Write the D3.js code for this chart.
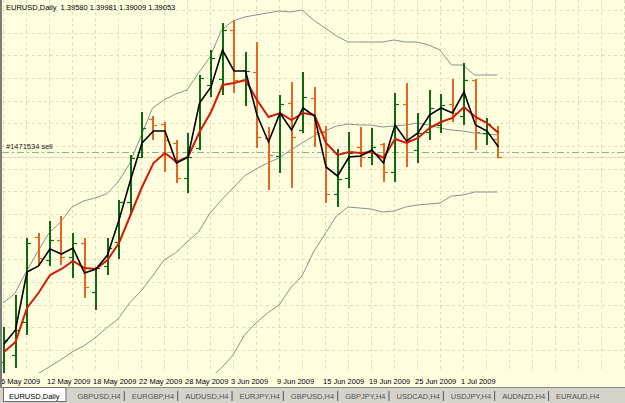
<!DOCTYPE html>
<html>
<head>
<meta charset="utf-8">
<script src="https://cdn.jsdelivr.net/npm/d3@7"></script>
<style>
  body { margin: 0; background: #fff; }
  svg { display: block; font-family: "Liberation Sans", Arial, sans-serif; }
</style>
</head>
<body>
<svg id="chart" width="625" height="403"></svg>
<script>
// EURUSD daily bars, 6 May - 6 Jul 2009
var dates = ["2009-05-06","2009-05-07","2009-05-08","2009-05-11","2009-05-12","2009-05-13","2009-05-14","2009-05-15",
  "2009-05-18","2009-05-19","2009-05-20","2009-05-21","2009-05-22","2009-05-25","2009-05-26","2009-05-27","2009-05-28","2009-05-29",
  "2009-06-01","2009-06-02","2009-06-03","2009-06-04","2009-06-05","2009-06-08","2009-06-09","2009-06-10","2009-06-11","2009-06-12",
  "2009-06-15","2009-06-16","2009-06-17","2009-06-18","2009-06-19","2009-06-22","2009-06-23","2009-06-24","2009-06-25","2009-06-26",
  "2009-06-29","2009-06-30","2009-07-01","2009-07-02","2009-07-03","2009-07-06"];

var open = [1.3290, 1.3311, 1.3410, 1.3665, 1.3596, 1.3656, 1.3605, 1.3647, 1.3500, 1.3578, 1.3650, 1.3770, 1.3905, 1.4019, 1.4004,
  1.3947, 1.3842, 1.3932, 1.4121, 1.4139, 1.4286, 1.4136, 1.4160, 1.3962, 1.3908, 1.4067, 1.3986, 1.4082, 1.3980, 1.3794,
  1.3842, 1.3935, 1.3905, 1.3944, 1.3860, 1.4064, 1.3926, 1.3980, 1.4001, 1.4064, 1.4028, 1.4136, 1.3977, 1.3958];
var high = [1.3395, 1.3491, 1.3662, 1.3677, 1.3713, 1.3728, 1.3677, 1.3662, 1.3575, 1.3662, 1.3776, 1.3911, 1.4040, 1.4028, 1.4010,
  1.3956, 1.3977, 1.4151, 1.4226, 1.4307, 1.4316, 1.4220, 1.4250, 1.3995, 1.4091, 1.4130, 1.4160, 1.4115, 1.3998, 1.3929,
  1.3980, 1.3995, 1.3992, 1.3947, 1.4097, 1.4127, 1.4037, 1.4106, 1.4094, 1.4139, 1.4187, 1.4139, 1.4022, 1.3998];
var low = [1.3242, 1.3272, 1.3371, 1.3581, 1.3578, 1.3581, 1.3542, 1.3482, 1.3446, 1.3551, 1.3599, 1.3731, 1.3902, 1.3956, 1.3860,
  1.3827, 1.3797, 1.3926, 1.4085, 1.4091, 1.4097, 1.4058, 1.3932, 1.3806, 1.3857, 1.3812, 1.3977, 1.3935, 1.3767, 1.3755,
  1.3812, 1.3875, 1.3881, 1.3830, 1.3830, 1.3875, 1.3887, 1.3956, 1.3977, 1.4010, 1.4001, 1.3926, 1.3941, 1.3901];
var close = [1.3356, 1.3386, 1.3647, 1.3602, 1.3656, 1.3605, 1.3647, 1.3515, 1.3572, 1.3632, 1.3770, 1.3902, 1.3992, 1.4001, 1.3956,
  1.3842, 1.3905, 1.4142, 1.4202, 1.4286, 1.4136, 1.4163, 1.3965, 1.3911, 1.4064, 1.3965, 1.4085, 1.3980, 1.3794, 1.3839,
  1.3917, 1.3905, 1.3935, 1.3860, 1.4064, 1.3956, 1.3977, 1.4052, 1.4061, 1.4037, 1.4136, 1.3980, 1.4004, 1.3905];

// indicators
var fastMA = [1.3344, 1.3386, 1.3560, 1.3578, 1.3629, 1.3614, 1.3632, 1.3557, 1.3569, 1.3611, 1.3716, 1.3836, 1.3947, 1.3983, 1.3983,
  1.3887, 1.3905, 1.4067, 1.4115, 1.4226, 1.4163, 1.4163, 1.4031, 1.3950, 1.4037, 1.3986, 1.4052, 1.4028, 1.3875, 1.3848,
  1.3905, 1.3908, 1.3926, 1.3887, 1.4001, 1.3953, 1.3977, 1.4031, 1.4052, 1.4037, 1.4100, 1.4001, 1.3983, 1.3935];
var slowMA = [1.3320, 1.3350, 1.3452, 1.3497, 1.3551, 1.3569, 1.3593, 1.3572, 1.3569, 1.3596, 1.3647, 1.3731, 1.3815, 1.3887, 1.3917,
  1.3890, 1.3905, 1.3980, 1.4040, 1.4121, 1.4127, 1.4136, 1.4076, 1.4025, 1.4037, 1.4016, 1.4037, 1.4031, 1.3947, 1.3911,
  1.3920, 1.3917, 1.3920, 1.3902, 1.3959, 1.3947, 1.3962, 1.3992, 1.4010, 1.4022, 1.4055, 1.4025, 1.4007, 1.3977];
var bandUpper = [1.3467, 1.3494, 1.3560, 1.3620, 1.3677, 1.3710, 1.3755, 1.3773, 1.3782, 1.3794, 1.3830, 1.3884, 1.3968, 1.4052, 1.4076,
  1.4094, 1.4106, 1.4157, 1.4205, 1.4286, 1.4313, 1.4325, 1.4331, 1.4337, 1.4343, 1.4340, 1.4346, 1.4316, 1.4292, 1.4268,
  1.4250, 1.4250, 1.4250, 1.4250, 1.4256, 1.4250, 1.4250, 1.4241, 1.4226, 1.4181, 1.4181, 1.4151, 1.4151, 1.4151];
var bandMiddle = [1.3176, 1.3200, 1.3230, 1.3254, 1.3275, 1.3296, 1.3320, 1.3338, 1.3362, 1.3392, 1.3419, 1.3467, 1.3503, 1.3548, 1.3596,
  1.3617, 1.3650, 1.3680, 1.3737, 1.3776, 1.3812, 1.3848, 1.3869, 1.3887, 1.3902, 1.3926, 1.3947, 1.3968, 1.3983, 1.3998,
  1.4004, 1.4001, 1.4001, 1.3995, 1.3998, 1.4001, 1.4007, 1.4001, 1.3992, 1.3986, 1.3983, 1.3977, 1.3974, 1.3971];
var bandLower = [null, null, null, null, null, null, null, null, null, null, null, null, null, 1.3044, 1.3116,
  1.3140, 1.3194, 1.3200, 1.3242, 1.3272, 1.3311, 1.3371, 1.3407, 1.3437, 1.3461, 1.3512, 1.3548, 1.3620, 1.3674, 1.3728,
  1.3755, 1.3752, 1.3749, 1.3740, 1.3743, 1.3755, 1.3761, 1.3764, 1.3767, 1.3788, 1.3791, 1.3800, 1.3800, 1.3800];

var tickLabels = ["6 May 2009", "12 May 2009", "18 May 2009", "22 May 2009", "28 May 2009", "3 Jun 2009",
  "9 Jun 2009", "15 Jun 2009", "19 Jun 2009", "25 Jun 2009", "1 Jul 2009"];
var gridPrices = [1.4346, 1.4278, 1.4210, 1.4142, 1.4074, 1.4006, 1.3938, 1.3870, 1.3802, 1.3734,
  1.3666, 1.3598, 1.3530, 1.3462, 1.3394, 1.3326, 1.3258];
var tabs = ["EURUSD,Daily", "GBPUSD,H4", "EURGBP,H4", "AUDUSD,H4", "EURJPY,H4", "GBPUSD,H4",
  "GBPJPY,H4", "USDCAD,H4", "USDJPY,H4", "AUDNZD,H4", "EURAUD,H4"];
var headerText = "EURUSD,Daily  1.39580 1.39981 1.39009 1.39053";
var orderLabel = "#1471534 sell";
var sellPrice = 1.3920, bidPrice = 1.3905;

var svg = d3.select("#chart"),
    width = +svg.attr("width"),
    height = +svg.attr("height"),
    plotBottom = 372,
    stripTop = 387,
    upColor = "#0c6a14",
    downColor = "#e5661e";

var parseDate = d3.timeParse("%Y-%m-%d"),
    formatDate = d3.timeFormat("%-d %b %Y");

var bars = dates.map(function (d, i) {
  return { i: i, date: parseDate(d), o: open[i], h: high[i], l: low[i], c: close[i] };
});

// one slot per bar, the chart keeps empty slots on the right
var x = d3.scaleLinear().domain([0, 54]).range([3, 624]);
var y = d3.scaleLinear().domain([1.3260, 1.4376]).range([plotBottom, 0]);

svg.append("rect")
  .attr("width", width).attr("height", stripTop)
  .attr("fill", "#ffffe0");

svg.append("clipPath").attr("id", "plot-clip")
  .append("rect").attr("x", 2).attr("y", 0).attr("width", width - 2).attr("height", plotBottom + 1);

var plot = svg.append("g").attr("clip-path", "url(#plot-clip)");

// grid
plot.append("g").selectAll("line")
  .data(d3.range(0, 55, 2))
  .enter().append("line")
  .attr("x1", (d) => Math.round(x(d)) + 0.5).attr("x2", (d) => Math.round(x(d)) + 0.5)
  .attr("y1", 0).attr("y2", plotBottom)
  .attr("stroke", "#e4dcb4").attr("stroke-dasharray", "3,3");

plot.append("g").selectAll("line")
  .data(gridPrices)
  .enter().append("line")
  .attr("x1", 2).attr("x2", width)
  .attr("y1", (d) => Math.round(y(d)) + 0.5).attr("y2", (d) => Math.round(y(d)) + 0.5)
  .attr("stroke", "#e4dcb4").attr("stroke-dasharray", "3,3");

// bid and order lines
plot.append("line")
  .attr("x1", 2).attr("x2", width)
  .attr("y1", Math.round(y(bidPrice)) + 0.5).attr("y2", Math.round(y(bidPrice)) + 0.5)
  .attr("stroke", "#ecd6bc");

plot.append("line")
  .attr("x1", 2).attr("x2", width)
  .attr("y1", Math.round(y(sellPrice)) + 0.5).attr("y2", Math.round(y(sellPrice)) + 0.5)
  .attr("stroke", "#86b886").attr("stroke-dasharray", "7,3,2,3");

svg.append("text")
  .attr("x", 6).attr("y", y(sellPrice) - 3)
  .attr("font-size", "7.5px").attr("fill", "#1a1a1a")
  .text(orderLabel);

// bollinger bands
var bandLine = d3.line()
  .defined((d) => d != null)
  .x((d, i) => x(i))
  .y((d) => y(d));

[bandUpper, bandMiddle, bandLower].forEach(function (band) {
  plot.append("path")
    .datum(band)
    .attr("fill", "none")
    .attr("stroke", "#86938a")
    .attr("stroke-width", 1)
    .attr("d", bandLine);
});

// OHLC bars
var barG = plot.append("g").selectAll("g")
  .data(bars)
  .enter().append("g")
  .attr("stroke", (d) => d.c >= d.o ? upColor : downColor);

barG.append("line")
  .attr("x1", (d) => Math.round(x(d.i)) + 1).attr("x2", (d) => Math.round(x(d.i)) + 1)
  .attr("y1", (d) => y(d.h)).attr("y2", (d) => y(d.l))
  .attr("stroke-width", 2);

barG.append("line")
  .attr("x1", (d) => Math.round(x(d.i)) - 3).attr("x2", (d) => Math.round(x(d.i)))
  .attr("y1", (d) => Math.round(y(d.o)) + 0.5).attr("y2", (d) => Math.round(y(d.o)) + 0.5)
  .attr("stroke-width", 1.2);

barG.append("line")
  .attr("x1", (d) => Math.round(x(d.i)) + 2).attr("x2", (d) => Math.round(x(d.i)) + 5)
  .attr("y1", (d) => Math.round(y(d.c)) + 0.5).attr("y2", (d) => Math.round(y(d.c)) + 0.5)
  .attr("stroke-width", 1.2);

// moving averages
var maLine = d3.line()
  .x((d, i) => x(i) + 1)
  .y((d) => y(d));

plot.append("path")
  .datum(slowMA)
  .attr("fill", "none")
  .attr("stroke", "#d21a06")
  .attr("stroke-width", 2)
  .attr("d", maLine);

plot.append("path")
  .datum(fastMA)
  .attr("fill", "none")
  .attr("stroke", "#000")
  .attr("stroke-width", 1.6)
  .attr("d", maLine);

// header
svg.append("text")
  .attr("x", 6).attr("y", 10)
  .attr("font-size", "7.5px").attr("fill", "#000")
  .attr("xml:space", "preserve")
  .style("white-space", "pre")
  .text(headerText);

// date axis
svg.append("g").selectAll("text")
  .data(bars.filter((d) => tickLabels.indexOf(formatDate(d.date)) >= 0))
  .enter().append("text")
  .attr("x", (d) => x(d.i) - 2)
  .attr("y", 384)
  .attr("font-size", "7.5px").attr("fill", "#000")
  .text((d) => formatDate(d.date));

// left frame
svg.append("rect")
  .attr("x", 0).attr("y", 0).attr("width", 2).attr("height", stripTop)
  .attr("fill", "#7c7c7c");

// tab strip
var strip = svg.append("g");
strip.append("rect")
  .attr("x", 0).attr("y", stripTop).attr("width", width).attr("height", height - stripTop)
  .attr("fill", "#d6d3cb");
strip.append("line")
  .attr("x1", 0).attr("x2", width).attr("y1", stripTop + 0.5).attr("y2", stripTop + 0.5)
  .attr("stroke", "#8a8a8a");

var tabX = 9;
tabs.forEach(function (name, k) {
  var t = strip.append("text")
    .attr("x", tabX).attr("y", 399)
    .attr("font-size", "7.5px")
    .attr("fill", k === 0 ? "#000" : "#555")
    .text(name);
  var w = t.node().getComputedTextLength();
  if (k === 0) {
    strip.insert("rect", "text")
      .attr("x", 3.5).attr("y", stripTop + 0.5).attr("width", w + 12).attr("height", 14)
      .attr("fill", "#fff").attr("stroke", "#6d6d6d");
    tabX += w + 18;
  } else {
    if (k > 1) {
      strip.append("line")
        .attr("x1", tabX - 7.5).attr("x2", tabX - 7.5)
        .attr("y1", stripTop + 4).attr("y2", stripTop + 14)
        .attr("stroke", "#555");
    }
    tabX += w + 11;
  }
});
</script>
</body>
</html>
